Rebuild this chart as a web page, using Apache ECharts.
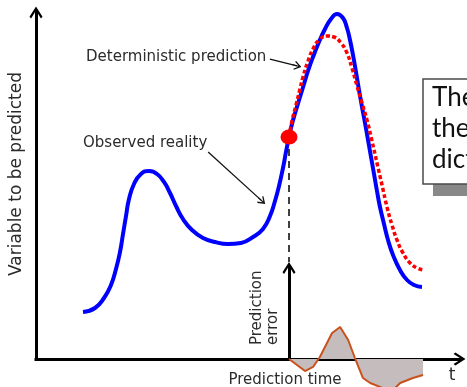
<!DOCTYPE html>
<html>
<head>
<meta charset="utf-8">
<script src="https://cdn.jsdelivr.net/npm/echarts@6/dist/echarts.min.js"></script>
<style>
  html, body { margin: 0; padding: 0; background: #fff; }
  #chart { width: 467px; height: 387px; }
</style>
</head>
<body>
<div id="chart"></div>
<script>
// observed reality (time, value)
const obsTime = [11.11, 13.95, 16.08, 17.73, 18.91, 19.86, 20.57, 21.28, 21.99, 23.17, 24.82, 26.71, 28.61, 30.26, 31.68, 33.10, 34.75, 36.88, 39.48, 42.32, 45.39, 48.46, 51.30, 53.66, 55.32, 56.50, 57.45, 58.39, 59.10, 59.81, 60.52, 61.47, 62.41, 63.36, 64.30, 65.48, 66.90, 68.32, 69.74, 71.16, 72.58, 73.52, 74.23, 74.94, 75.65, 76.36, 77.07, 77.78, 78.49, 79.20, 79.91, 80.61, 81.32, 82.27, 83.22, 84.40, 86.05, 87.71, 89.36, 91.25]
const obsValue = [13.58, 14.74, 17.63, 21.39, 26.01, 30.92, 36.13, 41.33, 46.24, 50.58, 53.47, 54.34, 53.47, 51.16, 47.98, 44.22, 40.46, 37.28, 34.97, 33.82, 33.24, 33.53, 35.26, 37.57, 41.33, 45.66, 50.00, 55.20, 59.83, 64.16, 67.92, 71.97, 75.72, 79.48, 83.24, 87.28, 91.62, 95.38, 98.27, 99.71, 98.55, 95.66, 92.20, 87.86, 82.95, 77.75, 72.83, 68.21, 63.29, 58.38, 53.47, 48.55, 43.93, 39.02, 34.39, 30.06, 25.72, 22.83, 21.39, 20.81]

// deterministic prediction, starting at prediction time
const predTime = [59.81, 60.52, 61.47, 62.41, 63.12, 64.30, 65.48, 66.90, 68.79, 70.45, 72.10, 73.52, 74.70, 75.89, 77.07, 78.25, 79.43, 80.61, 81.80, 82.98, 84.16, 85.34, 86.76, 88.42, 90.07, 91.49]
const predValue = [64.16, 68.79, 73.41, 78.03, 81.50, 86.13, 89.60, 92.20, 93.35, 93.06, 91.33, 88.44, 84.10, 78.90, 73.99, 69.08, 63.01, 56.65, 50.29, 43.93, 38.73, 34.39, 30.64, 27.75, 26.30, 25.72]

// prediction error
const errTime = [59.81, 63.6, 65.5, 67.1, 70.0, 71.9, 73.8, 75.4, 77.3, 79.0, 82.5, 84.9, 86.1, 89.1, 91.5]
const errValue = [0, -13.3, -8.8, 2.2, 28.7, 35.4, 21.0, 1.1, -21.0, -26.5, -33.1, -32.0, -26.5, -21.0, -17.7]

const startTime = 59.81
const startValue = 64.16
const errAxisTop = 28.0

// annotation arrows [from, to]
const detArrow = [[55.3, 86.7], [61.7, 84.7]]
const obsArrow = [[40.7, 59.8], [53.4, 45.7]]

const zip = (a, b) => a.map((v, i) => [v, b[i]])

const font = 'DejaVu Sans'
const textColor = '#2b2b2b'
const axisArrow = 'path://M50 0 L100 78 L88 92 L57 43 L57 100 L43 100 L43 43 L12 92 L0 78 Z'
const thinArrow = 'path://M50 0 L100 72 L90 82 L56 34 L56 100 L44 100 L44 34 L10 82 L0 72 Z'

const axisLine = (w) => ({
  show: true,
  symbol: ['none', axisArrow],
  symbolSize: [20, 13],
  lineStyle: { color: '#000', width: w, cap: 'square' }
})

const chart = echarts.init(document.getElementById('chart'))

chart.setOption({
  animation: false,
  grid: [
    { left: 36, top: 13, right: 8, bottom: 28 },
    { left: 289, top: 268.5, right: 8, bottom: 28 }
  ],
  xAxis: [
    {
      type: 'value', gridIndex: 0, min: 0, max: 100,
      axisLine: axisLine(3), axisTick: { show: false },
      axisLabel: { show: false }, splitLine: { show: false }
    },
    { type: 'value', gridIndex: 1, min: startTime, max: 100, show: false }
  ],
  yAxis: [
    {
      type: 'value', gridIndex: 0, min: 0, max: 100,
      axisLine: axisLine(3), axisTick: { show: false },
      axisLabel: { show: false }, splitLine: { show: false }
    },
    {
      type: 'value', gridIndex: 1, min: 0, max: 100,
      axisLine: axisLine(3), axisTick: { show: false },
      axisLabel: { show: false }, splitLine: { show: false }
    }
  ],
  series: [
    {
      type: 'line',
      xAxisIndex: 1, yAxisIndex: 1,
      data: zip(errTime, errValue),
      clip: false,
      showSymbol: false,
      lineStyle: { color: '#c9521c', width: 2 },
      areaStyle: { color: '#c5bdbd', opacity: 1 },
      z: 1
    },
    {
      type: 'line',
      data: [[startTime, startValue], [startTime, errAxisTop]],
      showSymbol: false,
      lineStyle: { color: '#000', width: 1.5, type: [7, 5] },
      z: 2
    },
    {
      type: 'line',
      data: zip(obsTime, obsValue),
      smooth: 0.5,
      clip: false,
      showSymbol: false,
      lineStyle: { color: '#0000ff', width: 4 },
      z: 3,
      markLine: {
        silent: true,
        symbol: ['none', thinArrow],
        symbolSize: [9, 9],
        label: { show: false },
        lineStyle: { color: '#111', width: 1.3, type: 'solid' },
        data: [
          [{ coord: detArrow[0] }, { coord: detArrow[1] }],
          [{ coord: obsArrow[0] }, { coord: obsArrow[1] }]
        ]
      }
    },
    {
      type: 'line',
      data: zip(predTime, predValue),
      smooth: 0.5,
      showSymbol: false,
      lineStyle: { color: '#ff0000', width: 3.5, type: [4, 2.5] },
      z: 4
    },
    {
      type: 'scatter',
      data: [[startTime, startValue]],
      symbolSize: [17, 15],
      itemStyle: { color: '#ff0000', opacity: 1 },
      z: 5
    }
  ],
  graphic: [
    { type: 'text', left: 86, top: 50, style: { text: 'Deterministic prediction', font: '15px ' + font, fill: textColor } },
    { type: 'text', left: 83, top: 136, style: { text: 'Observed reality', font: '15px ' + font, fill: textColor } },
    {
      type: 'text', x: 17, y: 174, rotation: Math.PI / 2,
      style: { text: 'Variable to be predicted', font: '17px ' + font, fill: textColor, align: 'center', verticalAlign: 'middle' }
    },
    {
      type: 'text', x: 285, y: 380,
      style: { text: 'Prediction time', font: '15px ' + font, fill: textColor, align: 'center', verticalAlign: 'middle' }
    },
    {
      type: 'text', x: 452, y: 376,
      style: { text: 't', font: '17px ' + font, fill: textColor, align: 'center', verticalAlign: 'middle' }
    },
    {
      type: 'text', x: 265, y: 345, rotation: Math.PI / 2,
      style: { text: 'Prediction\nerror', font: '15px ' + font, lineHeight: 16, fill: textColor, align: 'left', verticalAlign: 'middle' }
    },
    { type: 'rect', shape: { x: 433, y: 91, width: 80, height: 105 }, style: { fill: '#888' }, z: 10 },
    { type: 'rect', shape: { x: 423, y: 79, width: 80, height: 105 }, style: { fill: '#fff', stroke: '#4a4a4a', lineWidth: 1.5 }, z: 11 },
    {
      type: 'text', x: 432, y: 129, z: 12,
      style: { text: 'The\nthe\ndict', font: '26px Lato', lineHeight: 31, fill: '#111', align: 'left', verticalAlign: 'middle' }
    }
  ]
})
</script>
</body>
</html>
